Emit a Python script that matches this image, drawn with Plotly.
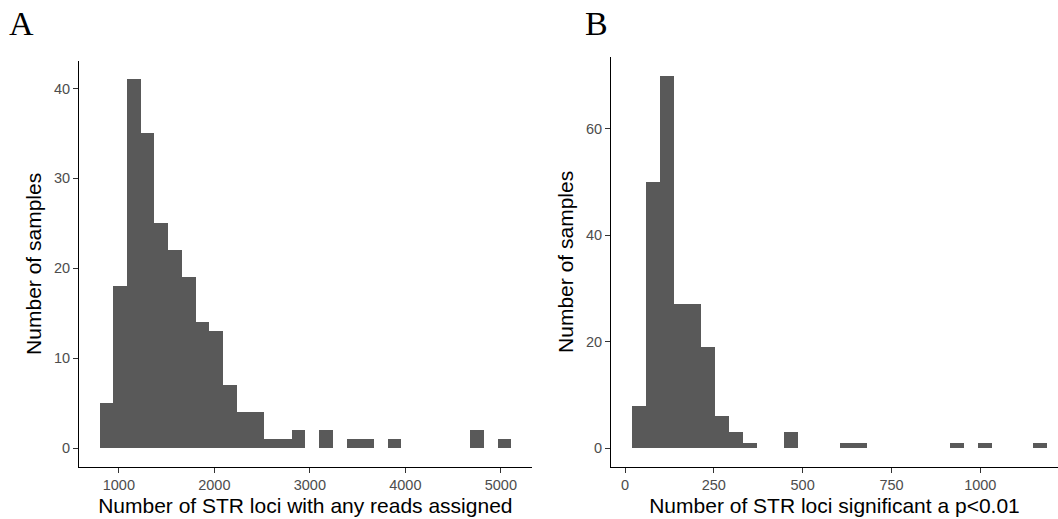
import numpy as np
import plotly.graph_objects as go

# ---- data ----
# Panel A: histogram of STR loci with any reads assigned (30 bins)
a_bin_start = 798.0
a_bin_width = 143.7
a_counts = [5, 18, 41, 35, 25, 22, 19, 14, 13, 7,
            4, 4, 1, 1, 2, 0, 2, 0, 1, 1,
            0, 1, 0, 0, 0, 0, 0, 2, 0, 1]

# Panel B: histogram of STR loci significant at p<0.01 (30 bins)
b_bin_start = 20.6
b_bin_width = 38.93
b_counts = [8, 50, 70, 27, 27, 19, 6, 3, 1, 0,
            0, 3, 0, 0, 0, 1, 1, 0, 0, 0,
            0, 0, 0, 1, 0, 1, 0, 0, 0, 1]

a_ticks = [1000, 2000, 3000, 4000, 5000]
a_yticks = [0, 10, 20, 30, 40]
b_ticks = [0, 250, 500, 750, 1000]
b_yticks = [0, 20, 40, 60]

a_xtitle = "Number of STR loci with any reads assigned"
b_xtitle = "Number of STR loci significant a p<0.01"
ytitle = "Number of samples"

W, H = 1058, 519
FILL = "#595959"

a_centers = a_bin_start + a_bin_width * (np.arange(len(a_counts)) + 0.5)
b_centers = b_bin_start + b_bin_width * (np.arange(len(b_counts)) + 0.5)

fig = go.Figure()
fig.add_trace(go.Bar(x=a_centers, y=a_counts, width=a_bin_width,
                     marker=dict(color=FILL, line=dict(width=0)),
                     xaxis="x", yaxis="y", showlegend=False))
fig.add_trace(go.Bar(x=b_centers, y=b_counts, width=b_bin_width,
                     marker=dict(color=FILL, line=dict(width=0)),
                     xaxis="x2", yaxis="y2", showlegend=False))

def px_x(p):
    return p / W

def px_y(p):
    return (H - p) / H

tickfont = dict(family="Liberation Sans, Arial, sans-serif", size=14.5, color="#4D4D4D")
titlefont = dict(family="Liberation Sans, Arial, sans-serif", size=21, color="#000000")

common_x = dict(showline=True, linecolor="#000000", linewidth=1.1, ticks="outside",
                ticklen=5, tickcolor="#333333", tickwidth=1.1, showgrid=False,
                zeroline=False, tickfont=tickfont, fixedrange=True)
common_y = dict(common_x)

fig.update_layout(
    width=W, height=H,
    margin=dict(l=0, r=0, t=0, b=0),
    paper_bgcolor="white", plot_bgcolor="white",
    bargap=0,
    xaxis=dict(common_x, domain=[px_x(79), px_x(531.7)], range=[582.5, 5323.5],
               tickvals=a_ticks, anchor="y",
               title=dict(text=a_xtitle, font=titlefont, standoff=6)),
    yaxis=dict(common_y, domain=[px_y(466.7), px_y(61)], range=[-2.05, 43.05],
               tickvals=a_yticks, anchor="x",
               title=dict(text=ytitle, font=titlefont, standoff=6)),
    xaxis2=dict(common_x, domain=[px_x(611), 1.0], range=[-39.4, 1218.7],
                tickvals=b_ticks, anchor="y2",
                title=dict(text=b_xtitle, font=titlefont, standoff=6)),
    yaxis2=dict(common_y, domain=[px_y(466.7), px_y(57)], range=[-3.5, 73.5],
                tickvals=b_yticks, anchor="x2",
                title=dict(text=ytitle, font=titlefont, standoff=6)),
    annotations=[
        dict(text="A", x=px_x(21), y=px_y(24), xref="paper", yref="paper",
             showarrow=False, xanchor="center", yanchor="middle",
             font=dict(family="Liberation Serif, Times New Roman, serif", size=34, color="#000000")),
        dict(text="B", x=px_x(596), y=px_y(24), xref="paper", yref="paper",
             showarrow=False, xanchor="center", yanchor="middle",
             font=dict(family="Liberation Serif, Times New Roman, serif", size=34, color="#000000")),
    ],
)

fig.write_html("out.html")
